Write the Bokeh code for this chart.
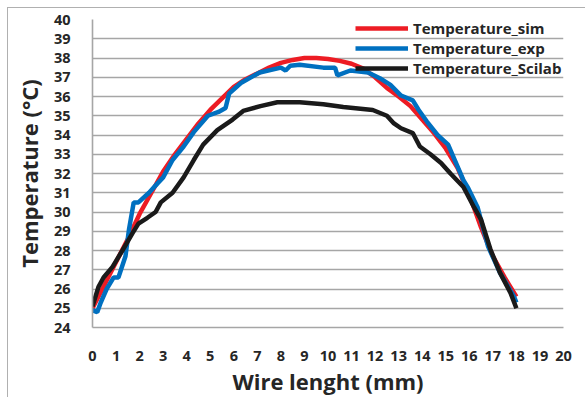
import math
from bokeh.plotting import figure
from bokeh.models import Legend, LegendItem, Title, FixedTicker, Range1d
from bokeh.embed import file_html
from bokeh.resources import INLINE

# ---- data ----
sim_x = [0, 0.5, 1, 1.5, 2, 2.5, 3, 3.5, 4, 4.5, 5, 5.5, 6, 6.5, 7, 7.5, 8, 8.5, 9, 9.5,
         10, 10.5, 11, 11.5, 12, 12.5, 13, 13.5, 14, 14.5, 15, 15.5, 16, 16.5, 17, 17.5, 18]
sim_y = [25.0, 26.2, 27.4, 28.6, 29.9, 31.0, 32.1, 33.0, 33.8, 34.6, 35.3, 35.9, 36.5, 36.9,
         37.2, 37.5, 37.75, 37.9, 38.0, 38.0, 37.95, 37.85, 37.7, 37.45, 37.0, 36.45, 36.0,
         35.5, 34.8, 34.1, 33.3, 32.3, 30.9, 29.2, 27.7, 26.6, 25.6]

exp_x = [0, 0.2, 0.35, 0.6, 0.9, 1.1, 1.4, 1.55, 1.75, 1.95, 2.4, 2.77, 3.0, 3.4, 3.87, 4.3,
         4.9, 5.35, 5.65, 5.8, 6.3, 7.1, 8.0, 8.2, 8.4, 8.8, 9.8, 10.3, 10.4, 10.95, 11.7,
         12.2, 12.65, 13.1, 13.6, 13.85, 14.2, 14.65, 15.1, 15.75, 15.95, 16.35, 16.6, 16.8,
         17.3, 17.9, 18.0]
exp_y = [24.9, 24.8, 25.3, 26.0, 26.6, 26.6, 27.7, 29.1, 30.5, 30.5, 31.0, 31.5, 31.8, 32.7,
         33.4, 34.15, 35.0, 35.2, 35.4, 36.15, 36.7, 37.25, 37.5, 37.35, 37.6, 37.65, 37.5,
         37.5, 37.1, 37.35, 37.25, 36.95, 36.6, 36.05, 35.8, 35.3, 34.7, 34.0, 33.5, 31.65,
         31.25, 30.25, 29.1, 28.2, 26.85, 25.6, 25.3]

sci_x = [0, 0.25, 0.47, 0.85, 1.27, 1.7, 1.95, 2.33, 2.68, 2.9, 3.4, 3.87, 4.3, 4.7, 5.3,
         5.95, 6.4, 7.13, 7.85, 8.8, 9.8, 10.65, 11.9, 12.5, 12.8, 13.1, 13.6, 13.9, 14.35,
         14.8, 15.2, 15.75, 16.2, 16.5, 16.9, 17.3, 17.75, 18.0]
sci_y = [25.1, 26.1, 26.6, 27.15, 28.0, 28.9, 29.4, 29.7, 30.0, 30.5, 31.0, 31.8, 32.7, 33.5,
         34.25, 34.8, 35.25, 35.5, 35.7, 35.7, 35.6, 35.45, 35.3, 35.0, 34.6, 34.35, 34.1,
         33.4, 33.0, 32.55, 32.0, 31.3, 30.25, 29.6, 28.05, 26.85, 25.8, 25.0]

x_ticks = list(range(0, 21))
y_ticks = list(range(24, 41))

series_names = ["Temperature_sim", "Temperature_exp", "Temperature_Scilab"]
series_colors = ["#ed1c24", "#0070c0", "#1a1a1a"]

FONT = "Open Sans"

p = figure(width=578, height=390, output_backend="svg", toolbar_location=None,
           x_range=Range1d(0, 20), y_range=Range1d(24, 40),
           min_border_left=84, min_border_right=23, min_border_top=11, min_border_bottom=70,
           margin=(7, 0, 0, 7))
p.styles = {"border-top": "1px solid #b0b0b0", "border-left": "1px solid #b0b0b0"}
p.outline_line_color = None
p.background_fill_color = "white"

p.xgrid.grid_line_color = None
p.ygrid.grid_line_color = "#a6a6a6"
p.ygrid.grid_line_width = 1.6

p.xaxis.ticker = FixedTicker(ticks=x_ticks)
p.yaxis.ticker = FixedTicker(ticks=y_ticks)
for ax in (p.xaxis, p.yaxis):
    ax.axis_line_color = "#a6a6a6"
    ax.axis_line_width = 1.6
    ax.major_tick_line_color = None
    ax.minor_tick_line_color = None
    ax.major_label_text_font = FONT
    ax.major_label_text_font_style = "bold"
    ax.major_label_text_font_size = "14.5px"
    ax.major_label_text_color = "#262626"
p.yaxis.major_label_standoff = 16
p.xaxis.major_label_standoff = 17

p.xaxis.axis_label = "Wire lenght (mm)"
p.xaxis.axis_label_text_font = FONT
p.xaxis.axis_label_text_font_style = "bold"
p.xaxis.axis_label_text_font_size = "22px"
p.xaxis.axis_label_text_color = "#262626"
p.xaxis.axis_label_standoff = 2

ytitle = Title(text="Temperature (°C)", align="center", offset=-34, standoff=10,
               vertical_align="top",
               text_font=FONT, text_font_style="bold", text_font_size="22px",
               text_color="#262626")
p.add_layout(ytitle, "left")

r1 = p.line(sim_x, sim_y, line_color=series_colors[0], line_width=4.5)
r2 = p.line(exp_x, exp_y, line_color=series_colors[1], line_width=4.5)
r3 = p.line(sci_x, sci_y, line_color=series_colors[2], line_width=4.5)

legend = Legend(items=[LegendItem(label=n, renderers=[r]) for n, r in zip(series_names, [r1, r2, r3])],
                location=(263, 249), glyph_width=53, glyph_height=20, label_standoff=5,
                padding=0, margin=0, spacing=0, border_line_color=None,
                background_fill_alpha=0,
                label_text_font=FONT, label_text_font_style="bold",
                label_text_font_size="15px", label_text_color="#262626",
                label_height=20)
p.add_layout(legend)

open("out.html", "w").write(file_html(p, INLINE))
